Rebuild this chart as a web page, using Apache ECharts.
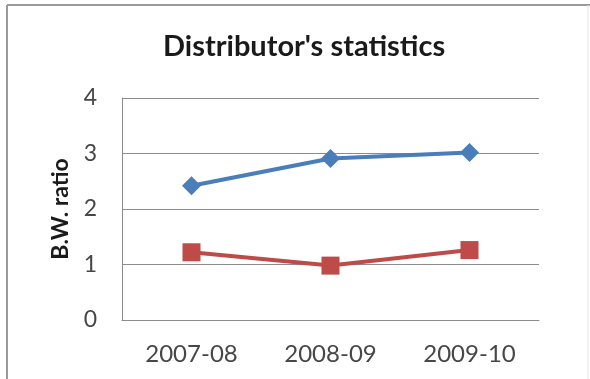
<!DOCTYPE html>
<html>
<head>
<meta charset="utf-8">
<style>
  html, body { margin: 0; padding: 0; background: #ffffff; }
  #chart { width: 590px; height: 379px; }
</style>
<script src="https://cdn.jsdelivr.net/npm/echarts@6/dist/echarts.min.js"></script>
</head>
<body>
<div id="chart"></div>
<script>
// Distributor statistics: B.W. ratio per season
const seasons = ['2007-08', '2008-09', '2009-10'];
const seriesA = [2.42, 2.91, 3.02];
const seriesB = [1.22, 0.98, 1.26];
const yTicks = [0, 1, 2, 3, 4];

const fontFamily = 'Lato, "Open Sans", sans-serif';
const chart = echarts.init(document.getElementById('chart'), null, { renderer: 'canvas' });

chart.setOption({
  backgroundColor: '#ffffff',
  animation: false,
  title: {
    text: "Distributor's statistics",
    left: 163,
    top: 32,
    padding: 0,
    textStyle: { fontFamily, fontSize: 29, fontWeight: 'bold', color: '#1a1a1a' }
  },
  grid: { left: 122, right: 51, top: 98, bottom: 59 },
  xAxis: {
    type: 'category',
    data: seasons,
    boundaryGap: true,
    axisLine: { show: true, lineStyle: { color: '#8c8c8c', width: 1 } },
    axisTick: { show: false },
    axisLabel: { fontFamily, fontSize: 24, color: '#474747', margin: 22 }
  },
  yAxis: {
    type: 'value',
    min: yTicks[0],
    max: yTicks[yTicks.length - 1],
    interval: 1,
    name: 'B.W. ratio',
    nameLocation: 'middle',
    nameGap: 50,
    nameRotate: 90,
    nameTextStyle: { fontFamily, fontSize: 23, fontWeight: 'bold', color: '#1a1a1a' },
    axisLine: { show: true, lineStyle: { color: '#8c8c8c', width: 1 } },
    axisTick: { show: false },
    axisLabel: { fontFamily, fontSize: 23, color: '#474747', margin: 25 },
    splitLine: { show: true, lineStyle: { color: '#8c8c8c', width: 1 } }
  },
  series: [
    {
      name: 'A',
      type: 'line',
      data: seriesA,
      symbol: 'diamond',
      symbolSize: 19,
      lineStyle: { color: '#4a7ebb', width: 4 },
      itemStyle: { color: '#4a7ebb' }
    },
    {
      name: 'B',
      type: 'line',
      data: seriesB,
      symbol: 'rect',
      symbolSize: 18,
      lineStyle: { color: '#be4b48', width: 4 },
      itemStyle: { color: '#be4b48' }
    }
  ],
  graphic: [
    { type: 'line', shape: { x1: 7, y1: 5, x2: 7, y2: 379 }, style: { stroke: '#9a9a9a', lineWidth: 2 } },
    { type: 'line', shape: { x1: 7, y1: 5, x2: 590, y2: 5 }, style: { stroke: '#9a9a9a', lineWidth: 2 } },
    { type: 'line', shape: { x1: 588, y1: 5, x2: 588, y2: 379 }, style: { stroke: '#e6e6e6', lineWidth: 1 } }
  ]
});
</script>
</body>
</html>
